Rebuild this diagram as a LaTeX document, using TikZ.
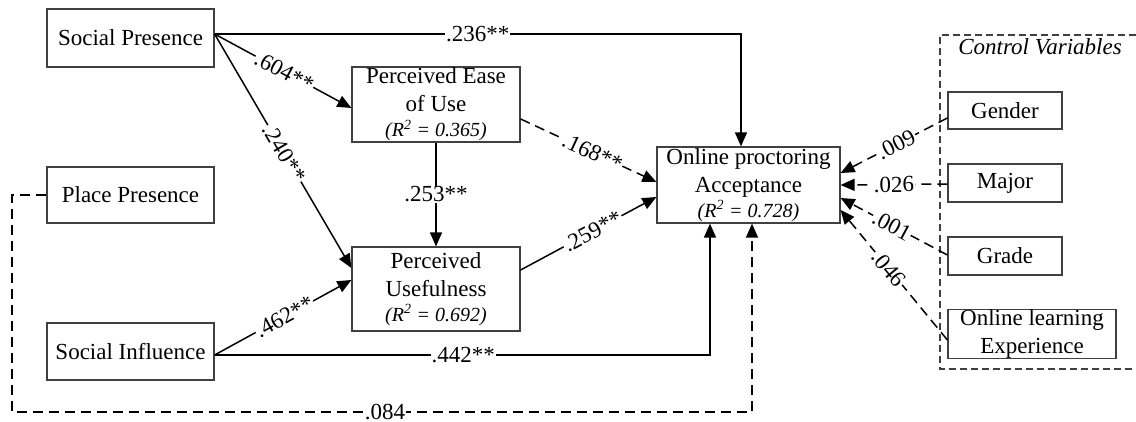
\documentclass[tikz,border=0pt]{standalone}
\usepackage{fontspec}
\setmainfont{Liberation Serif}
\usetikzlibrary{arrows.meta,calc}
\newcommand{\rsq}[1]{{\fontsize{20}{20}\selectfont\itshape (R\textsuperscript{2} = #1)}}
\begin{document}
\begin{tikzpicture}[x=1pt,y=-1pt,
  box/.style={draw=black!75, line width=1.2pt, rectangle, inner sep=0pt, align=center,
    font=\fontsize{23}{28}\selectfont},
  conn/.style={line width=1.5pt, -{Triangle[length=14pt,width=12pt]}},
  dconn/.style={conn, dash pattern=on 10pt off 6pt},
  lab/.style={fill=white, inner sep=1pt, font=\fontsize{23}{23}\selectfont},
  ctrl/.style={draw=black!75, line width=1.1pt, dash pattern=on 7pt off 4pt}]
\useasboundingbox (0,0) rectangle (1136,422);

% exogenous constructs
\node[box, minimum width=167pt, minimum height=58pt] (sp) at (130.5,38) {Social Presence};
\node[box, minimum width=167pt, minimum height=56pt] (pp) at (130.5,195) {Place Presence};
\node[box, minimum width=167pt, minimum height=57pt] (si) at (130.5,351.5) {Social Influence};

% mediators and outcome
\node[box, minimum width=168pt, minimum height=75pt] (peou) at (436,104.5)
  {Perceived Ease\\of Use\\[-3pt]\rsq{0.365}};
\node[box, minimum width=168pt, minimum height=84pt] (pu) at (436,289)
  {Perceived\\Usefulness\\[-3pt]\rsq{0.692}};
\node[box, minimum width=183pt, minimum height=76pt] (opa) at (748.5,185)
  {Online proctoring\\Acceptance\\[-3pt]\rsq{0.728}};

% control variables
\draw[ctrl] (1136,35) -- (940,35) -- (940,369) -- (1136,369);
\node[font=\fontsize{23}{23}\selectfont\itshape, anchor=base] (ctitle) at (1040,55) {Control Variables};
\node[box, minimum width=114pt, minimum height=37pt] (gender) at (1005,110.5) {Gender};
\node[box, minimum width=114pt, minimum height=38pt] (major) at (1005,183) {Major};
\node[box, minimum width=114pt, minimum height=38pt] (grade) at (1005,256) {Grade};
\node[box, minimum width=168pt, minimum height=48pt] (ole) at (1032,334)
  {Online learning\\Experience};

% structural paths
\draw[conn] ([yshift=4pt]sp.east) -| node[lab, pos=0.25] {.236**} ([xshift=-7.5pt]opa.north);
\draw[conn] ([yshift=4pt]sp.east) -- node[lab, sloped, pos=0.51] {.604**} ([yshift=-3.5pt]peou.west);
\draw[conn] ([yshift=4pt]sp.east) -- node[lab, sloped, pos=0.51] {.240**} ([yshift=21pt]pu.west);
\draw[conn] (peou.south) -- node[lab] {.253**} (pu.north);
\draw[dconn] ([yshift=-14.5pt]peou.east) -- node[lab, sloped, pos=0.53] {.168**} ([yshift=3pt]opa.west);
\draw[conn] ([yshift=19pt]pu.east) -- node[lab, sloped, pos=0.53] {.259**} ([yshift=-12pt]opa.west);
\draw[conn] ([yshift=-3.5pt]si.east) -- node[lab, sloped, pos=0.51] {.462**} ([yshift=9pt]pu.west);
\draw[conn] ([yshift=-3.5pt]si.east) -| node[lab, pos=0.251] {.442**} ([xshift=-38.5pt]opa.south);
\coordinate (ppbend) at (12,412);
\draw[dconn] (pp.west) -| (ppbend) -| node[lab, pos=0.252, inner sep=0.5pt, text depth=0pt] {.084} ([xshift=3.5pt]opa.south);

% control paths
\draw[dconn] ([yshift=-7.5pt]gender.west) -- node[lab, sloped, pos=0.48] {.009} ([yshift=12pt]opa.east);
\draw[dconn] ([yshift=-1pt]major.west) -- node[lab, sloped, pos=0.5] {.026} (opa.east);
\draw[dconn] ([yshift=1pt]grade.west) -- node[lab, sloped, pos=0.52] {.001} ([yshift=-13pt]opa.east);
\draw[dconn] ([yshift=-6pt]ole.west) -- node[lab, sloped, pos=0.55] {.046} ([yshift=-25pt]opa.east);
\end{tikzpicture}
\end{document}
